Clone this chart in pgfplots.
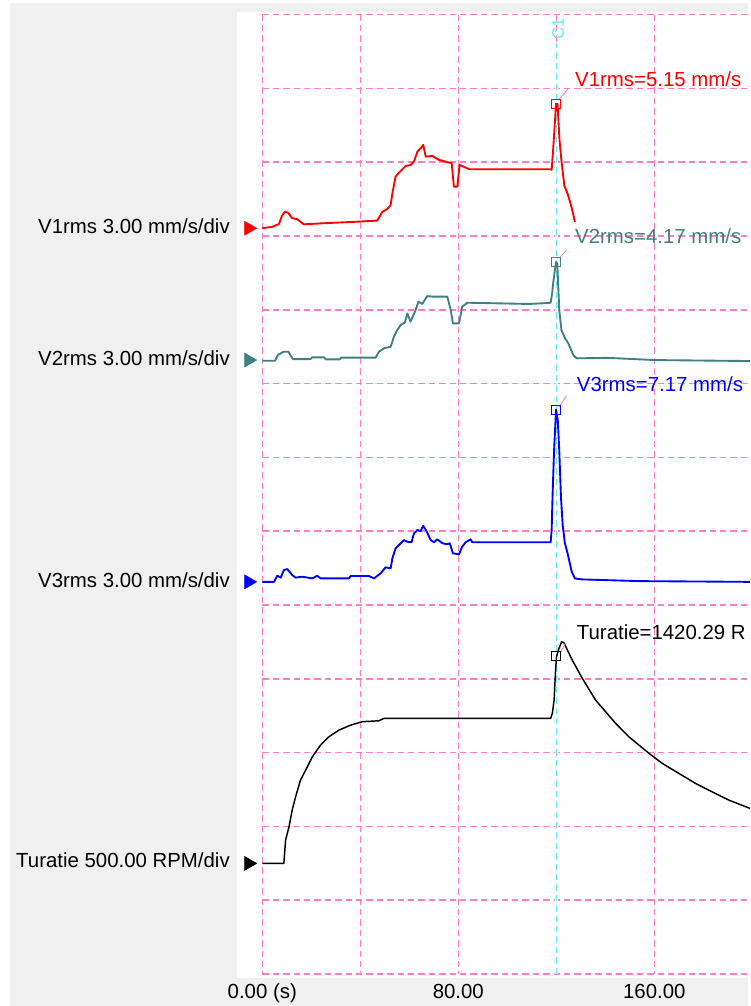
\documentclass[border=0pt]{standalone}
\usepackage{pgfplots}
\pgfplotsset{compat=1.18}
\usepackage{pgfplotstable}
\usepackage{fontspec}
\setmainfont{Liberation Sans}
\newlength\px \setlength\px{0.75pt}
\newcommand\labfont{\fontsize{15.3}{18}\selectfont}
\definecolor{gridpink}{RGB}{255,125,195}
\definecolor{cursorcyan}{RGB}{100,235,245}
\definecolor{bggray}{RGB}{240,240,240}
\definecolor{vone}{RGB}{255,0,0}
\definecolor{vtwo}{RGB}{64,128,128}
\definecolor{vthree}{RGB}{0,0,255}

% V1rms (mm/s)
\pgfplotstableread{
t v
0 0.09
4.1 0.15
6.8 0.26
8.0 0.59
9.2 0.76
10.5 0.72
12.2 0.50
14.2 0.46
16.9 0.25
24.4 0.29
39.4 0.36
46.9 0.40
49.0 0.76
51.0 0.87
52.4 1.04
53.1 1.51
54.4 2.19
55.8 2.35
58.5 2.62
60.5 2.66
61.9 2.80
63.3 3.20
64.6 3.34
65.7 3.48
66.7 3.00
69.4 3.03
72.1 2.87
76.2 2.76
77.3 2.74
78.2 1.78
79.6 1.78
80.5 2.66
81.6 2.62
84.4 2.49
117.7 2.49
118.1 2.47
118.7 3.27
119.9 5.15
120.5 5.14
121.3 3.68
122.2 2.74
123.3 1.81
124.5 1.52
126.0 1.04
127.6 0.35
}\vonetab

% V2rms (mm/s)
\pgfplotstableread{
t v
0 0.15
5.2 0.15
6.5 0.40
8.8 0.52
10.6 0.52
12.5 0.22
19.7 0.22
20.4 0.29
25.2 0.29
25.9 0.21
31.6 0.21
32.2 0.28
46.3 0.28
47.6 0.52
49.7 0.66
52.4 0.72
53.7 1.13
55.1 1.40
56.5 1.61
58.2 1.70
59.2 2.08
60.5 1.74
62.6 2.22
63.7 2.55
65.3 2.46
67.3 2.78
69.4 2.76
75.5 2.76
76.9 2.22
77.8 1.67
80.3 1.67
81.6 2.35
83.7 2.51
93.9 2.49
108.9 2.46
115.0 2.49
117.7 2.51
118.3 2.89
118.7 3.30
119.9 4.17
120.4 4.10
121.2 2.22
122.1 1.40
123.5 1.08
124.9 0.86
126.9 0.39
128.3 0.25
141 0.27
160 0.18
199 0.14
}\vtwotab

% V3rms (mm/s)
\pgfplotstableread{
t v
0 0.17
4.8 0.17
6.1 0.42
7.5 0.34
8.8 0.65
10.2 0.69
12.2 0.45
13.6 0.34
16.3 0.38
20.4 0.31
22.4 0.42
23.8 0.31
35.4 0.31
36.1 0.41
43.5 0.41
45.6 0.31
48.3 0.52
50.3 0.76
52.4 0.72
53.1 1.13
54.4 1.53
56.5 1.74
57.8 1.87
59.2 1.80
60.9 1.78
61.9 2.14
63.3 2.28
64.6 2.23
65.7 2.45
67.3 2.18
68.7 1.87
70.1 1.78
71.4 1.90
73.5 1.74
75.5 1.70
76.5 1.74
77.8 1.33
80.3 1.29
81.6 1.60
83.0 1.78
85.0 1.90
85.7 1.78
117.7 1.78
118.1 2.28
118.5 3.78
119.1 5.53
119.9 7.17
120.6 6.75
121.2 5.53
121.9 3.62
122.6 2.48
123.5 1.74
124.6 1.33
126.3 0.58
127.6 0.31
130.4 0.27
154 0.20
199 0.17
}\vthreetab

% Turatie (RPM)
\pgfplotstableread{
t v
0 18
8.8 18
9.5 176
10.9 266
12.2 379
13.6 470
15.6 583
17.7 650
20.4 740
23.8 820
27.2 876
31.3 921
36.1 955
40.8 978
47.6 984
49.7 1001
117.7 1001
118.4 1035
119.1 1125
119.7 1328
120.1 1420
121.1 1475
122.2 1520
123.1 1513
126.5 1396
130.6 1272
136.0 1125
144.2 967
149.6 876
157.8 764
163.2 696
170.0 628
176.8 560
183.6 503
190.4 447
199 391
}\ttab

\begin{document}
\begin{tikzpicture}
\path[use as bounding box, fill=white] (0,0) rectangle (750\px,-1006\px);
\fill[bggray] (10\px,-3\px) rectangle (748\px,-1006\px);
\begin{axis}[
  scale only axis, width=513\px, height=966\px,
  anchor=north west, at={(237\px,-12\px)},
  xmin=-10.33, xmax=199.06, ymin=-0.054, ymax=13.035,
  axis background/.style={fill=white},
  axis line style={draw=none},
  major tick length=0pt,
  xtick={0,80,160}, xticklabels={0.00 (s),80.00,160.00},
  ytick=\empty,
  xticklabel style={anchor=base, yshift=-15pt, font=\labfont},
  clip=false,
]
% grid
\pgfplotsinvokeforeach{0,1,2,3,4,5,6,7,8,9,10,11,12,13}{
  \draw[gridpink, line width=1.1pt, dash pattern=on 4.8pt off 3pt] (axis cs:0,#1) -- (axis cs:199.06,#1);
}
\pgfplotsinvokeforeach{0,40,80,120,160}{
  \draw[gridpink, line width=1.1pt, dash pattern=on 4.8pt off 3pt] (axis cs:#1,13) -- (axis cs:#1,0);
}
% cursor
\draw[white, line width=2pt] (axis cs:120,0) -- (axis cs:120,12.62);
\draw[cursorcyan, line width=1.1pt, dash pattern=on 4.8pt off 3pt] (axis cs:120,0) -- (axis cs:120,12.62);
\node[rotate=90, text=cursorcyan, font=\fontsize{12.5}{14}\selectfont, inner sep=0] at (axis cs:120.7,12.80) {C1};

% traces
\addplot[vone, line width=1.4pt, line join=round] table[x=t, y expr=\thisrow{v}/3+10.075] {\vonetab};
\addplot[vtwo, line width=1.4pt, line join=round] table[x=t, y expr=\thisrow{v}/3+8.259] {\vtwotab};
\addplot[vthree, line width=1.4pt, line join=round] table[x=t, y expr=\thisrow{v}/3+5.257] {\vthreetab};
\addplot[black, line width=1.1pt, line join=round] table[x=t, y expr=\thisrow{v}/500+1.463] {\ttab};

% cursor markers
\addplot[vone, only marks, mark=square, mark size=3.4pt, line width=0.8pt] table[row sep=\\, x=t, y expr=\thisrow{v}/3+10.075] {t v\\ 120 5.15\\};
\addplot[vtwo, only marks, mark=square, mark size=3.4pt, line width=0.8pt] table[row sep=\\, x=t, y expr=\thisrow{v}/3+8.259] {t v\\ 120 4.17\\};
\addplot[vthree, only marks, mark=square, mark size=3.4pt, line width=0.8pt] table[row sep=\\, x=t, y expr=\thisrow{v}/3+5.257] {t v\\ 120 7.17\\};
\addplot[black, only marks, mark=square, mark size=3.4pt, line width=0.8pt] table[row sep=\\, x=t, y expr=\thisrow{v}/500+1.463] {t v\\ 120 1420.29\\};

% zero-level arrows
\addplot[vone, only marks, mark=triangle*, mark size=6pt, mark options={rotate=-90}] table[row sep=\\, x=t, y expr=\thisrow{v}/3+10.075] {t v\\ -5.55 0.09\\};
\addplot[vtwo, only marks, mark=triangle*, mark size=6pt, mark options={rotate=-90}] table[row sep=\\, x=t, y expr=\thisrow{v}/3+8.259] {t v\\ -5.55 0.18\\};
\addplot[vthree, only marks, mark=triangle*, mark size=6pt, mark options={rotate=-90}] table[row sep=\\, x=t, y expr=\thisrow{v}/3+5.257] {t v\\ -5.55 0.17\\};
\addplot[black, only marks, mark=triangle*, mark size=6pt, mark options={rotate=-90}] table[row sep=\\, x=t, y expr=\thisrow{v}/500+1.463] {t v\\ -5.55 18\\};

% leader lines
\draw[gridpink, line width=0.6pt] (axis cs:120.8,11.84) -- (axis cs:124.7,11.99);
\draw[gridpink, line width=0.6pt] (axis cs:121.2,9.70) -- (axis cs:124.2,9.81);
\draw[gridpink, line width=0.6pt] (axis cs:121.2,7.687) -- (axis cs:124.2,7.836);
\draw[gridpink, line width=0.6pt] (axis cs:121.9,4.367) -- (axis cs:123.7,4.481);

% value labels
\node[anchor=base west, inner sep=0, text=vone, font=\labfont] at (axis cs:127.6,12.023) {V1rms=5.15 mm/s};
\node[anchor=base west, inner sep=0, text=vtwo, font=\labfont] at (axis cs:127.6,9.90) {V2rms=4.17 mm/s};
\node[anchor=base west, inner sep=0, text=vthree, font=\labfont] at (axis cs:128.3,7.89) {V3rms=7.17 mm/s};
\node[anchor=base west, inner sep=0, text=black, font=\labfont] at (axis cs:128.3,4.535) {Turatie=1420.29 R};

% channel labels
\node[anchor=base east, inner sep=0, font=\labfont] at (axis cs:-13.18,10.04) {V1rms 3.00 mm/s/div};
\node[anchor=base east, inner sep=0, font=\labfont] at (axis cs:-13.18,8.25) {V2rms 3.00 mm/s/div};
\node[anchor=base east, inner sep=0, font=\labfont] at (axis cs:-13.18,5.24) {V3rms 3.00 mm/s/div};
\node[anchor=base east, inner sep=0, font=\labfont] at (axis cs:-13.18,1.446) {Turatie 500.00 RPM/div};
\end{axis}
\end{tikzpicture}
\end{document}
